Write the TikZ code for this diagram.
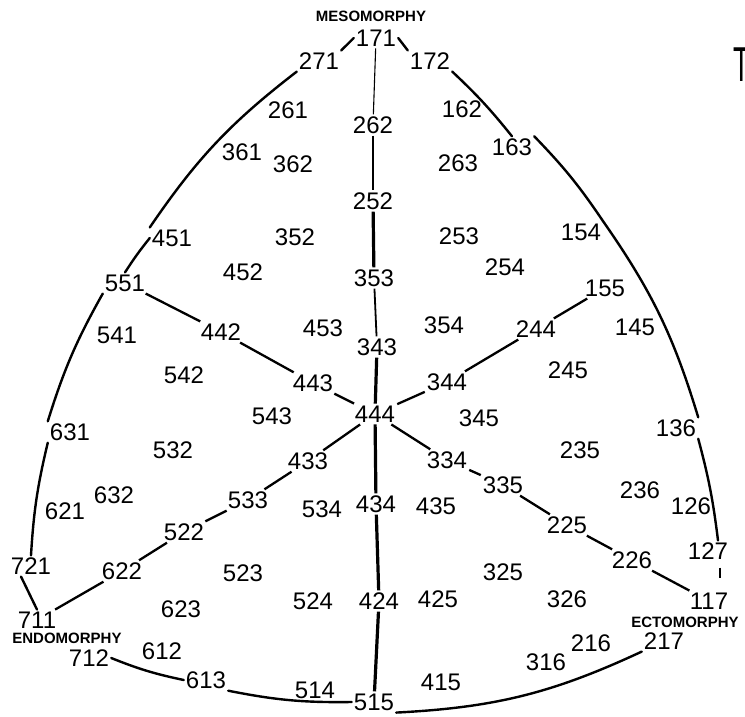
\documentclass[tikz,border=0pt]{standalone}
\usepackage{fontspec}
\setmainfont{Liberation Sans}
\tikzset{
  num/.style={font=\fontsize{24}{24}\selectfont, inner sep=2pt},
  axislbl/.style={font=\bfseries\fontsize{15}{16}\selectfont, inner sep=1pt},
  rim/.style={line width=2.4pt, line cap=round},
  axisline/.style={line width=2.3pt},
  thinaxis/.style={line width=1.1pt},
  midaxis/.style={line width=1.8pt},
  thickaxis/.style={line width=3.2pt},
}
\begin{document}
\begin{tikzpicture}[x=1pt,y=-1pt]
\useasboundingbox (0,0) rectangle (745,716);
\fill[white] (0,0) rectangle (745,716);

% axis labels
\node[axislbl] (meso) at (371,16) {MESOMORPHY};
\node[font=\fontsize{49}{49}\selectfont, inner sep=0pt] (tcut) at (742,64.5) {\scalebox{0.55}[1]{T}};

% numbers
\node[num] (n171) at (376,38) {171};
\node[num] (n271) at (319,61) {271};
\node[num] (n172) at (430,61) {172};
\node[num] (n261) at (288,110) {261};
\node[num] (n262) at (373,125) {262};
\node[num] (n162) at (462,109) {162};
\node[num] (n361) at (242,152) {361};
\node[num] (n362) at (293,164) {362};
\node[num] (n263) at (458,163) {263};
\node[num] (n163) at (512,147) {163};
\node[num] (n252) at (373,201) {252};
\node[num] (n451) at (172,238) {451};
\node[num] (n352) at (295,237) {352};
\node[num] (n253) at (459,236) {253};
\node[num] (n154) at (581,232) {154};
\node[num] (n551) at (125,283) {551};
\node[num] (n452) at (243,272) {452};
\node[num] (n353) at (374,278) {353};
\node[num] (n254) at (505,267) {254};
\node[num] (n155) at (605,288) {155};
\node[num] (n541) at (117,335) {541};
\node[num] (n442) at (221,332) {442};
\node[num] (n453) at (323,328) {453};
\node[num] (n343) at (377,347) {343};
\node[num] (n354) at (444,325) {354};
\node[num] (n244) at (536,329) {244};
\node[num] (n145) at (635,327) {145};
\node[num] (n542) at (184,375) {542};
\node[num] (n443) at (313,383) {443};
\node[num] (n344) at (447,382) {344};
\node[num] (n245) at (568,370) {245};
\node[num] (n543) at (272,416) {543};
\node[num] (n444) at (375,414) {444};
\node[num] (n345) at (479,418) {345};
\node[num] (n631) at (70,432) {631};
\node[num] (n532) at (173,450) {532};
\node[num] (n433) at (308,461) {433};
\node[num] (n334) at (447,460) {334};
\node[num] (n235) at (580,450) {235};
\node[num] (n136) at (676,428) {136};
\node[num] (n335) at (503,485) {335};
\node[num] (n236) at (640,490) {236};
\node[num] (n126) at (691,506) {126};
\node[num] (n632) at (114,495) {632};
\node[num] (n621) at (65,511) {621};
\node[num] (n533) at (248,500) {533};
\node[num] (n534) at (322,509) {534};
\node[num] (n434) at (376,504) {434};
\node[num] (n435) at (436,506) {435};
\node[num] (n522) at (184,532) {522};
\node[num] (n225) at (567,525) {225};
\node[num] (n721) at (31,566) {721};
\node[num] (n622) at (122,571) {622};
\node[num] (n523) at (243,573) {523};
\node[num] (n226) at (632,560) {226};
\node[num] (n127) at (708,551) {127};
\node[num] (n325) at (503,572) {325};
\node[num] (n524) at (313,601) {524};
\node[num] (n424) at (379,601) {424};
\node[num] (n425) at (438,599) {425};
\node[num] (n326) at (567,599) {326};
\node[num] (n117) at (709,601) {117};
\node[num] (n711) at (37,620) {711};
\node[num] (n623) at (181,609) {623};
\node[num] (n612) at (162,651) {612};
\node[num] (n712) at (89,658) {712};
\node[num] (n613) at (206,680) {613};
\node[num] (n514) at (315,690) {514};
\node[num] (n515) at (374,702) {515};
\node[num] (n415) at (441,682) {415};
\node[num] (n316) at (546,662) {316};
\node[num] (n216) at (591,643) {216};
\node[num] (n217) at (664,641) {217};

\node[axislbl] (endo) at (67,638) {ENDOMORPHY};
\node[axislbl] (ecto) at (685,622) {ECTOMORPHY};

% outer rim: left arc
\draw[rim] (n171.west) -- (n271.north east);
\draw[rim] (n271.south west) to[bend right=9] (n451.north west);
\draw[rim] (n451.west) to[bend right=3] (n551.north);
\draw[rim] (n551.south west) to[bend right=6] (n631.north west);
\draw[rim] (n631.south west) to[bend right=5] (n721.north);
\draw[rim] ([xshift=-10pt]n721.south) -- (n711.north);
% right arc
\draw[rim] (n171.east) -- (n172.north west);
\draw[rim] (n172.south east) to[bend left=4] (n163.north);
\draw[rim] (n163.north east) to[bend left=5] (n154.north east);
\draw[rim] (n154.north east) to[bend left=9] (n136.north east);
\draw[rim] (n136.south east) to[bend left=4] ([xshift=10pt]n127.north);
\draw[line width=1.6pt] ([shift={(12,6)}]n127.south) -- ([shift={(11,-13)}]n117.north);
% bottom arc
\draw[rim] (n712.east) to[bend right=5] (n613.west);
\draw[rim] (n613.south east) to[bend right=6] (n515.west);
\draw[rim] (n515.south east) to[bend right=11] (n217.south west);

% vertical axis
\draw[thinaxis] (n171) -- (n262);
\draw[thinaxis] (n262) -- (n252);
\draw[thickaxis] (n252) -- (n353);
\draw[midaxis] (n353) -- (n343);
\draw[thickaxis] (n343) -- (n444);
\draw[thickaxis] (n444) -- (n434);
\draw[thickaxis] (n434) -- (n424);
\draw[thickaxis] (n424) -- (n515);

% upper-left axis
\draw[axisline] (n444) -- (n443);
\draw[axisline] (n443) -- (n442);
\draw[axisline] (n442) -- (n551);
% upper-right axis
\draw[axisline] (n444) -- (n344);
\draw[axisline] (n344) -- (n244);
\draw[axisline] (n244) -- (n155);
% lower-left axis
\draw[axisline] (n444) -- (n433);
\draw[axisline] (n433) -- (n533);
\draw[axisline] (n533) -- (n522);
\draw[axisline] (n522) -- (n622);
\draw[axisline] (n622) -- (n711);
% lower-right axis
\draw[axisline] (n444) -- (n334);
\draw[axisline] (n334) -- (n335);
\draw[axisline] (n335) -- (n225);
\draw[axisline] (n225) -- (n226);
\draw[axisline] (n226) -- (n117);
\end{tikzpicture}
\end{document}
